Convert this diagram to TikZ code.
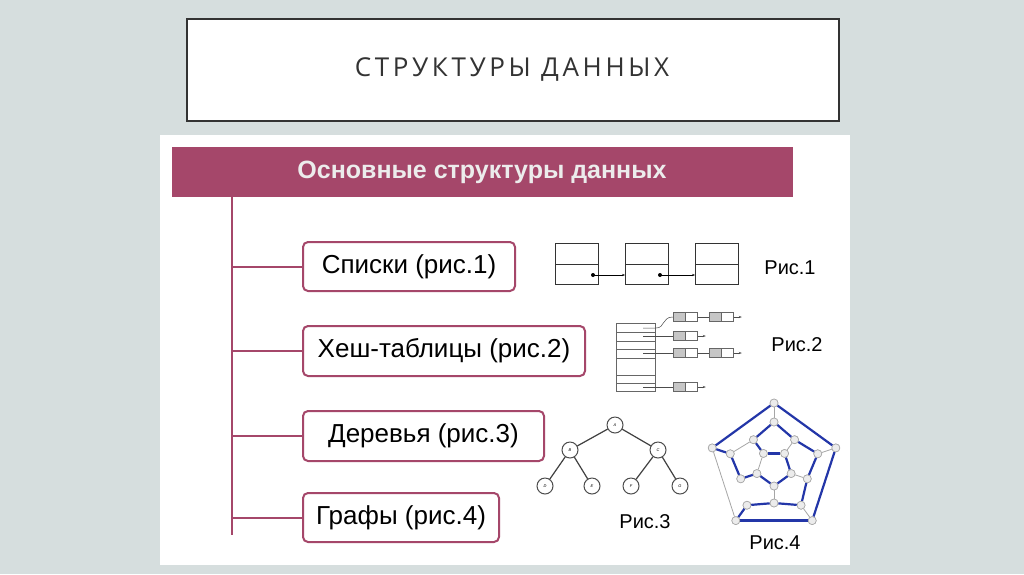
\documentclass[tikz,border=0pt]{standalone}
\usepackage{fontspec}
\setmainfont{Liberation Sans}
\newfontfamily\titlefont[LetterSpace=14]{Open Sans}
\usetikzlibrary{arrows.meta}
\definecolor{bg}{HTML}{D6DEDE}
\definecolor{mag}{HTML}{A5476A}
\definecolor{gblue}{HTML}{2336A8}
\tikzset{
  cat/.style={draw=mag,line width=2pt,rounded corners=5pt,fill=white,inner sep=0pt,anchor=north west},
  ctext/.style={font=\fontsize{26}{30}\selectfont},
  br/.style={draw=mag,line width=2pt},
  lcell/.style={draw=black!80,line width=0.6pt},
  fig/.style={font=\fontsize{20}{24}\selectfont},
  tn/.style={circle,draw=black!70,line width=1pt,minimum size=16pt,inner sep=0pt,font=\fontsize{4}{4}\selectfont\itshape},
  gn/.style={circle,draw=gray!70,fill=gray!15,line width=0.6pt,minimum size=8pt,inner sep=0pt},
  ge/.style={draw=gray!70,line width=0.8pt},
  be/.style={draw=gblue,line width=2.2pt},
  ptr/.style={-{Stealth[length=3pt]},line width=0.5pt},
}
\begin{document}
\begin{tikzpicture}[x=1pt,y=-1pt]
\useasboundingbox (0,0) rectangle (1024,574);
\fill[bg] (0,0) rectangle (1024,574);
% title box
\node[draw=black!80,line width=2pt,fill=white,minimum width=652pt,minimum height=102pt,anchor=north west] (tbox) at (186,18) {};
\node[font=\titlefont\fontsize{26}{30}\selectfont,text=black!80] (title) at (512,70) {СТРУКТУРЫ ДАННЫХ};
% content panel
\fill[white] (160,135) rectangle (850,565);
\node[fill=mag,minimum width=621pt,minimum height=50pt,anchor=north west,inner sep=0pt] (head) at (172,147) {};
\node[font=\bfseries\fontsize{25}{30}\selectfont,text=gray!15] (headt) at (482,172) {Основные структуры данных};
\coordinate (top) at (232,197);
\coordinate (bot) at (232,535);
\draw[br] (top) -- (bot);
\node[cat,minimum width=212pt,minimum height=49pt] (c1) at (302,241) {};
\node[ctext] at (c1.center) {Списки (рис.1)};
\node[cat,minimum width=282pt,minimum height=50pt] (c2) at (302,325) {};
\node[ctext] at (c2.center) {Хеш-таблицы (рис.2)};
\node[cat,minimum width=241pt,minimum height=50pt] (c3) at (302,410) {};
\node[ctext] at (c3.center) {Деревья (рис.3)};
\node[cat,minimum width=196pt,minimum height=49pt] (c4) at (302,492) {};
\node[ctext] at (c4.center) {Графы (рис.4)};
\foreach \c in {c1,c2,c3,c4}{\draw[br] (top|-\c.west) -- (\c.west);}
% Fig 1: linked list
\foreach \i/\x in {1/555,2/625,3/695}{
  \node[lcell,minimum width=43pt,minimum height=41pt,inner sep=0pt,anchor=north west] (L\i) at (\x,243) {};
  \draw[lcell] (L\i.west) -- (L\i.east);
}
\fill (593,275) circle (2pt) coordinate (d1);
\fill (660,275) circle (2pt) coordinate (d2);
\draw[ptr] (d1) -- (d1-|L2.west);
\draw[ptr] (d2) -- (d2-|L3.west);
\node[fig] (f1) at (790,268) {Рис.1};
% Fig 2: hash table
\draw[lcell,draw=black!60] (616,323) rectangle (655,391);
\foreach \y in {332,341,349,358,375,383}{\draw[lcell,draw=black!60] (616,\y) -- (655,\y);}
\newcommand{\hcell}[3]{%
  \node[draw=black!60,fill=gray!45,minimum width=12pt,minimum height=9pt,inner sep=0pt,line width=0.5pt] (#3a) at (#1+6,#2) {};
  \node[draw=black!60,fill=white,minimum width=12pt,minimum height=9pt,inner sep=0pt,line width=0.5pt,anchor=west] (#3b) at (#3a.east) {};
}
\hcell{673}{317}{ha}\hcell{709}{317}{hb}
\hcell{673}{336}{hc}
\hcell{673}{353}{hd}\hcell{709}{353}{he}
\hcell{673}{387}{hf}
\coordinate (p1) at (643,328); \coordinate (p2) at (643,336);
\coordinate (p3) at (643,353); \coordinate (p4) at (643,387);
\draw[line width=0.5pt,black!70] (p1) -- (656,328) .. controls (665,328) and (662,317) .. (haa.west);
\draw[line width=0.5pt,black!70] (p2) -- (hca.west);
\draw[line width=0.5pt,black!70] (p3) -- (hda.west);
\draw[line width=0.5pt,black!70] (p4) -- (hfa.west);
\draw[line width=0.5pt,black!70] (hab.east) -- (hba.west);
\draw[line width=0.5pt,black!70] (hdb.east) -- (hea.west);
\foreach \n in {hbb,hcb,heb,hfb}{\draw[ptr,black!70] (\n.east) -- ++(8,0);}
\node[fig] (f2) at (797,345) {Рис.2};
% Fig 3: tree
\node[tn] (A) at (615,425) {A};
\node[tn] (B) at (570,450) {B};
\node[tn] (C) at (658,450) {C};
\node[tn] (D) at (545,486) {D};
\node[tn] (E) at (592,486) {E};
\node[tn] (F) at (631,486) {F};
\node[tn] (G) at (680,486) {G};
\foreach \a/\b in {A/B,A/C,B/D,B/E,C/F,C/G}{\draw[line width=1.2pt,black!75] (\a) -- (\b);}
\node[fig] (f3) at (645,522) {Рис.3};
% Fig 4: dodecahedron
\begin{scope}[shift={(774,468)}]
\foreach \k in {0,...,4}{
  \node[gn] (O\k) at ({65*cos(90+72*\k)},{-65*sin(90+72*\k)}) {};
  \node[gn] (I\k) at ({18*cos(126+72*\k)},{-18*sin(126+72*\k)}) {};
}
\foreach \j in {0,...,9}{
  \pgfmathsetmacro{\r}{ifthenelse(mod(\j,2)==0,46,35)}
  \node[gn] (M\j) at ({\r*cos(90+36*\j)},{-\r*sin(90+36*\j)}) {};
}
\end{scope}
% gray edges
\foreach \a/\b in {O1/O2,O0/M0,O3/M6,O4/M8,M2/M3,M1/M2,M4/M5,M9/I4,M5/I2,M7/I3,M3/I1,M1/I0,I0/I1}{\draw[ge] (\a) -- (\b);}
% blue Hamiltonian cycle
\foreach \a/\b in {M2/O1,O1/O0,O0/O4,O4/O3,O3/O2,O2/M4,M4/M5,M5/M6,M6/M7,M7/M8,M8/M9,M9/M0,M0/M1,M1/I0,I0/I4,I4/I3,I3/I2,I2/I1,I1/M3,M3/M2}{\draw[be] (\a) -- (\b);}
\foreach \n in {O0,O1,O2,O3,O4,I0,I1,I2,I3,I4,M0,M1,M2,M3,M4,M5,M6,M7,M8,M9}{\node[gn] at (\n) {};}
\node[fig] (f4) at (775,543) {Рис.4};
\end{tikzpicture}
\end{document}
